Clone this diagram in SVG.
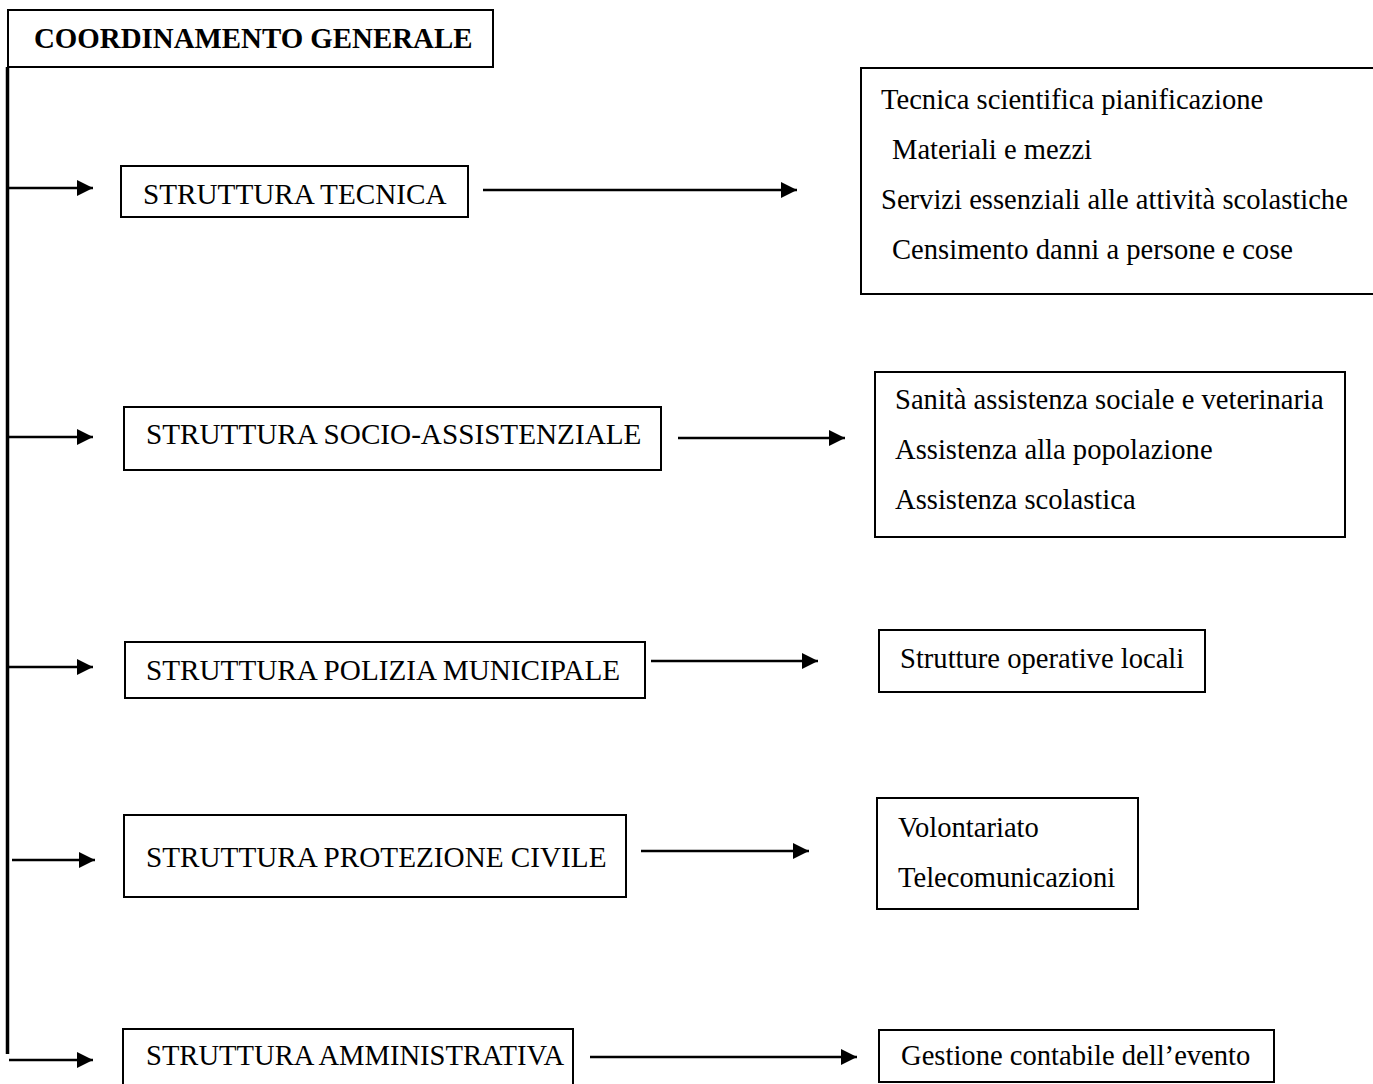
<svg xmlns="http://www.w3.org/2000/svg" width="1373" height="1084" viewBox="0 0 1373 1084">
<defs>
<marker id="ah" markerUnits="userSpaceOnUse" markerWidth="17" markerHeight="16" refX="16" refY="8" orient="auto">
<path d="M0,0 L16,8 L0,16 Z" fill="#000"/>
</marker>
<style>
.box{fill:#fff;stroke:#000;stroke-width:2}
.t{font-family:"Liberation Serif","Times New Roman",serif;font-size:28.6px;fill:#000}
.u{font-size:29.2px}
.b{font-weight:bold}
.c{fill:none;stroke:#000;stroke-width:2.5}
.a{marker-end:url(#ah)}
.trunk{fill:none;stroke:#000;stroke-width:3.5}
</style>
</defs>
<rect width="1373" height="1084" fill="#fff"/>
<g id="connectors">
<path class="trunk" d="M7.5,67 V1054"/>
<path class="c a" d="M9,188 H93"/>
<path class="c a" d="M9,437 H93"/>
<path class="c a" d="M9,667 H93"/>
<path class="c a" d="M12,860 H95"/>
<path class="c a" d="M9,1060 H93"/>
<path class="c a" d="M483,190 H797"/>
<path class="c a" d="M678,438 H845"/>
<path class="c a" d="M651,661 H818"/>
<path class="c a" d="M641,851 H809"/>
<path class="c a" d="M590,1057 H857"/>
</g>
<g id="coordinamento">
<rect class="box" x="8" y="10" width="485" height="57"/>
<text class="t b" x="34" y="48" style="font-size:28.9px">COORDINAMENTO GENERALE</text>
</g>
<g id="tecnica">
<rect class="box" x="121" y="166" width="347" height="51"/>
<text class="t u" x="143" y="204">STRUTTURA TECNICA</text>
</g>
<g id="tecnica-compiti">
<rect class="box" x="861" y="68" width="530" height="226"/>
<text class="t" x="881" y="109">Tecnica scientifica pianificazione</text>
<text class="t" x="892" y="159">Materiali e mezzi</text>
<text class="t" x="881" y="209">Servizi essenziali alle attività scolastiche</text>
<text class="t" x="892" y="259">Censimento danni a persone e cose</text>
</g>
<g id="socio">
<rect class="box" x="124" y="407" width="537" height="63"/>
<text class="t u" x="146" y="444">STRUTTURA SOCIO-ASSISTENZIALE</text>
</g>
<g id="socio-compiti">
<rect class="box" x="875" y="372" width="470" height="165"/>
<text class="t" x="895" y="409">Sanità assistenza sociale e veterinaria</text>
<text class="t" x="895" y="459">Assistenza alla popolazione</text>
<text class="t" x="895" y="509">Assistenza scolastica</text>
</g>
<g id="polizia">
<rect class="box" x="125" y="642" width="520" height="56"/>
<text class="t u" x="146" y="680">STRUTTURA POLIZIA MUNICIPALE</text>
</g>
<g id="polizia-compiti">
<rect class="box" x="879" y="630" width="326" height="62"/>
<text class="t" x="900" y="668">Strutture operative locali</text>
</g>
<g id="protezione">
<rect class="box" x="124" y="815" width="502" height="82"/>
<text class="t u" x="146" y="867">STRUTTURA PROTEZIONE CIVILE</text>
</g>
<g id="protezione-compiti">
<rect class="box" x="877" y="798" width="261" height="111"/>
<text class="t" x="898" y="837">Volontariato</text>
<text class="t" x="898" y="887">Telecomunicazioni</text>
</g>
<g id="amministrativa">
<rect class="box" x="123" y="1029" width="450" height="70"/>
<text class="t" x="146" y="1065">STRUTTURA AMMINISTRATIVA</text>
</g>
<g id="amministrativa-compiti">
<rect class="box" x="879" y="1030" width="395" height="52"/>
<text class="t" x="901" y="1065">Gestione contabile dell’evento</text>
</g>
</svg>
